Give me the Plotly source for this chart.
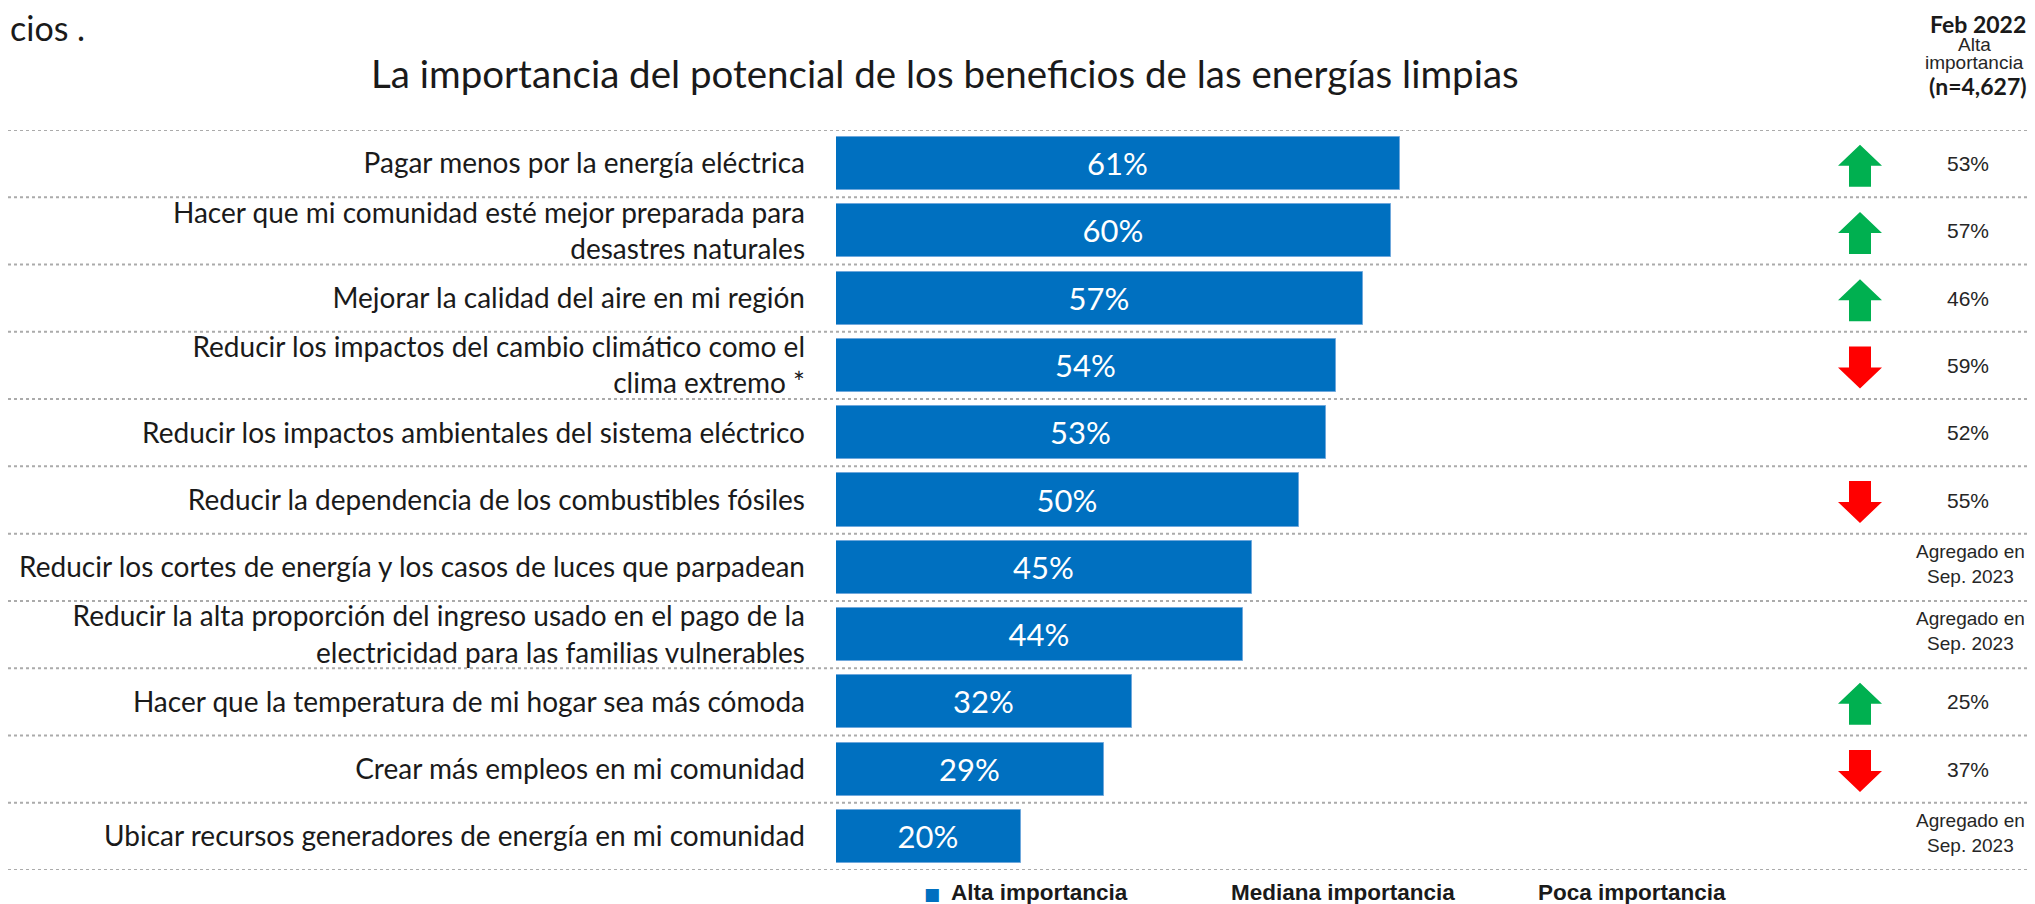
import plotly.graph_objects as go

# Datos del grafico (Sep. 2023 vs Feb 2022, alta importancia)
categorias = [
    "Pagar menos por la energía eléctrica",
    "Hacer que mi comunidad esté mejor preparada para<br>desastres naturales",
    "Mejorar la calidad del aire en mi región",
    "Reducir los impactos del cambio climático como el<br>clima extremo *",
    "Reducir los impactos ambientales del sistema eléctrico",
    "Reducir la dependencia de los combustibles fósiles",
    "Reducir los cortes de energía y los casos de luces que parpadean",
    "Reducir la alta proporción del ingreso usado en el pago de la<br>electricidad para las familias vulnerables",
    "Hacer que la temperatura de mi hogar sea más cómoda",
    "Crear más empleos en mi comunidad",
    "Ubicar recursos generadores de energía en mi comunidad",
]
alta_importancia = [61, 60, 57, 54, 53, 50, 45, 44, 32, 29, 20]
feb_2022 = [53, 57, 46, 59, 52, 55, None, None, 25, 37, None]
cambio = ["up", "up", "up", "down", "", "down", "", "", "up", "down", ""]

W, H = 2035, 904
top_px, bot_px = 122, 862
n = len(categorias)
row_px = (bot_px - top_px) / n
bar_left = 828
px_per_pct = 9.25

fig = go.Figure()

# barras principales
fig.add_trace(go.Bar(
    y=list(range(n)), x=alta_importancia, orientation="h",
    marker=dict(color="#0070C0", line=dict(color="#6fa8dc", width=1)),
    width=0.79,
    texttemplate="%{x}%", textposition="inside", insidetextanchor="middle",
    textangle=0, constraintext="none",
    textfont=dict(family="Lato", size=31, color="white"),
    hoverinfo="skip", showlegend=False,
))

# flechas de cambio (poligonos en pixeles -> unidades de fila)
def flecha(i, direccion):
    pts = [(0, -21), (22, 0), (11, 0), (11, 21), (-11, 21), (-11, 0), (-22, 0), (0, -21)]
    s = 1 if direccion == "up" else -1
    xs = [p[0] for p in pts]
    ys = [i + (s * p[1] + 2) / row_px for p in pts]
    return xs, ys

for direccion, color in [("up", "#00B050"), ("down", "#FF0000")]:
    xs, ys = [], []
    for i, c in enumerate(cambio):
        if c == direccion:
            fx, fy = flecha(i, direccion)
            xs += fx + [None]
            ys += fy + [None]
    fig.add_trace(go.Scatter(
        x=xs, y=ys, xaxis="x2", yaxis="y", mode="lines", fill="toself",
        fillcolor=color, line=dict(width=0, color=color),
        hoverinfo="skip", showlegend=False,
    ))

# lineas punteadas entre filas
shapes = []
for i in range(n + 1):
    shapes.append(dict(
        type="line", xref="paper", yref="y", x0=0, x1=1, y0=i - 0.5, y1=i - 0.5,
        line=dict(color="#ababab", width=2, dash="dot"), layer="below",
    ))

annotations = []
# columna Feb 2022
for i, v in enumerate(feb_2022):
    if v is None:
        annotations.append(dict(
            x=1962 / W, xref="paper", y=i - 0.05, yref="y", text="Agregado en<br>Sep. 2023",
            font=dict(family="Liberation Sans", size=19, color="#262626"),
        ))
    else:
        annotations.append(dict(
            x=1960 / W, xref="paper", y=i, yref="y", text=f"{v}%",
            font=dict(family="Liberation Sans", size=21, color="#262626"),
        ))

# encabezado columna derecha
annotations += [
    dict(x=1970 / W, y=1, yanchor="top", text="<b>Feb 2022</b>",
         font=dict(family="Lato", size=23, color="#1a1a1a")),
    dict(x=1966 / W, y=1 - 37 / H, text="Alta",
         font=dict(family="Liberation Sans", size=19, color="#262626")),
    dict(x=1966 / W, y=1 - 55 / H, text="importancia",
         font=dict(family="Liberation Sans", size=19, color="#262626")),
    dict(x=1970 / W, y=1 - 78 / H, text="<b>(n=4,627)</b>",
         font=dict(family="Lato", size=23, color="#1a1a1a")),
]

# titulo y texto cortado arriba a la izquierda
annotations += [
    dict(x=937 / W, y=1 - 65 / H, text="La importancia del potencial de los beneficios de las energías limpias",
         font=dict(family="Lato", size=38.5, color="#1a1a1a")),
    dict(x=0, y=1 - 19 / H, xanchor="left", text="cios .",
         font=dict(family="Lato", size=34, color="#1a1a1a")),
]

# leyenda manual
annotations += [
    dict(x=924 / W, y=1 - 886 / H, text="■",
         font=dict(family="DejaVu Sans", size=17, color="#0070C0")),
    dict(x=941 / W, y=1 - 884 / H, xanchor="left", text="<b>Alta importancia</b>",
         font=dict(family="Liberation Sans", size=22.5, color="#1a1a1a")),
    dict(x=1221 / W, y=1 - 884 / H, xanchor="left", text="<b>Mediana importancia</b>",
         font=dict(family="Liberation Sans", size=22.5, color="#1a1a1a")),
    dict(x=1528 / W, y=1 - 884 / H, xanchor="left", text="<b>Poca importancia</b>",
         font=dict(family="Liberation Sans", size=22.5, color="#1a1a1a")),
]
for a in annotations:
    a.setdefault("xref", "paper")
    a.setdefault("yref", "paper")
    a.setdefault("showarrow", False)
    a.setdefault("xanchor", "center")
    a.setdefault("yanchor", "middle")

fig.update_layout(
    width=W, height=H,
    margin=dict(l=0, r=0, t=0, b=0),
    plot_bgcolor="white", paper_bgcolor="white",
    bargap=0,
    xaxis=dict(domain=[bar_left / W, (bar_left + 100 * px_per_pct) / W], range=[0, 100],
               visible=False, fixedrange=True),
    xaxis2=dict(domain=[1812 / W, 1892 / W], range=[-40, 40], anchor="y",
                visible=False, fixedrange=True),
    yaxis=dict(domain=[1 - bot_px / H, 1 - top_px / H], range=[n - 0.5, -0.5],
               tickvals=list(range(n)), ticktext=categorias,
               showgrid=False, zeroline=False, showline=False, ticks="",
               ticklabelstandoff=30,
               tickfont=dict(family="Lato", size=28, color="#1a1a1a")),
    shapes=shapes,
    annotations=annotations,
)

fig.write_html("out.html")
